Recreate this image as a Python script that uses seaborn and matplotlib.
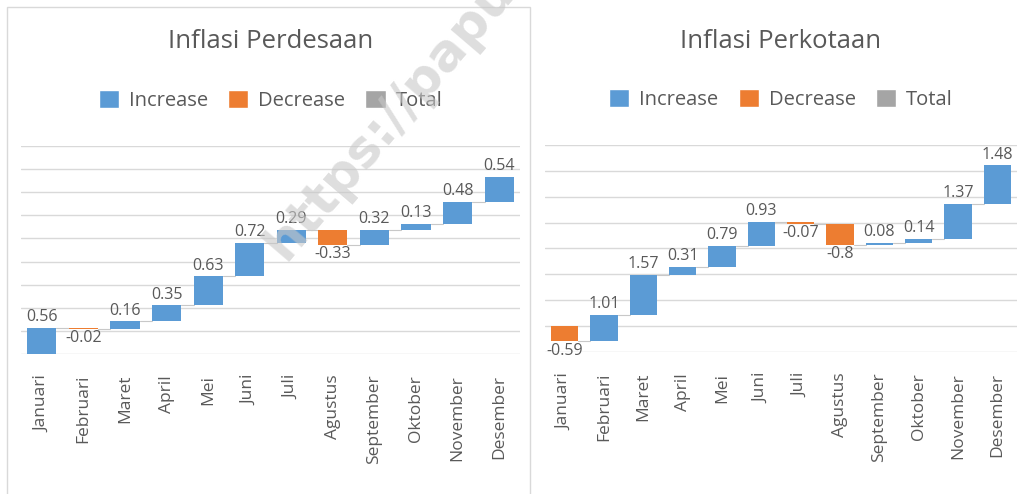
import numpy as np
import pandas as pd
import matplotlib.pyplot as plt
from matplotlib.patches import Patch, Rectangle
import seaborn as sns

# data
bulan = ['Januari', 'Februari', 'Maret', 'April', 'Mei', 'Juni', 'Juli',
         'Agustus', 'September', 'Oktober', 'November', 'Desember']
inflasi_desa = [0.56, -0.02, 0.16, 0.35, 0.63, 0.72, 0.29, -0.33, 0.32, 0.13, 0.48, 0.54]
inflasi_kota = [-0.59, 1.01, 1.57, 0.31, 0.79, 0.93, -0.07, -0.8, 0.08, 0.14, 1.37, 1.48]
jenis_legend = ['Increase', 'Decrease', 'Total']
warna = {'Increase': '#5B9BD5', 'Decrease': '#ED7D31', 'Total': '#A5A5A5'}

sns.set_theme(style='whitegrid', rc={'grid.color': '#d9d9d9', 'grid.linewidth': 1.0})
plt.rcParams['font.family'] = ['Open Sans', 'DejaVu Sans']
abu = '#595959'


def waterfall(ax, nilai, judul, ylim, step):
    df = pd.DataFrame({'bulan': bulan, 'nilai': nilai})
    df['akhir'] = df['nilai'].cumsum()
    df['awal'] = df['akhir'] - df['nilai']
    df['jenis'] = np.where(df['nilai'] >= 0, 'Increase', 'Decrease')
    df['tinggi'] = df['nilai'].abs()
    df['dasar'] = df[['awal', 'akhir']].min(axis=1)

    sns.barplot(data=df, x='bulan', y='tinggi', bottom=df['dasar'].to_numpy(),
                errorbar=None, width=0.7, saturation=1, color=warna['Increase'], ax=ax, zorder=3)
    for p, j in zip(ax.patches, df['jenis']):
        p.set_facecolor(warna[j])
        p.set_edgecolor('none')

    # connector lines
    for i in range(len(df) - 1):
        ax.plot([i + 0.35, i + 0.65], [df['akhir'][i]] * 2, color='#c8c8c8', lw=0.8, zorder=2)

    # data labels
    for i, r in df.iterrows():
        if r['jenis'] == 'Increase':
            ax.annotate(f"{r['nilai']:g}", (i, r['akhir']), xytext=(0, 2), textcoords='offset points',
                        ha='center', va='bottom', fontsize=11.5, color=abu, zorder=4)
        else:
            ax.annotate(f"{r['nilai']:g}", (i, r['akhir']), xytext=(0, -1), textcoords='offset points',
                        ha='center', va='top', fontsize=11.5, color=abu, zorder=4)

    pad = step * 0.01
    ax.set_xlim(-0.5, len(df) - 0.5)
    ax.set_ylim(ylim[0] - pad, ylim[1] + pad)
    ax.set_yticks(np.arange(ylim[0], ylim[1] + step / 2, step))
    ax.tick_params(axis='y', left=False, labelleft=False)
    ax.tick_params(axis='x', bottom=False, pad=9, labelsize=12.5, labelcolor=abu, labelrotation=90)
    ax.xaxis.grid(False)
    ax.set_xlabel('')
    ax.set_ylabel('')
    for s in ax.spines.values():
        s.set_visible(False)

    ax.text(0.5, 1.5, judul, transform=ax.transAxes, ha='center', va='center', fontsize=18.5, color=abu)
    handles = [Patch(facecolor=warna[k], label=k) for k in jenis_legend]
    ax.legend(handles=handles, loc='center', bbox_to_anchor=(0.5, 1.22), ncol=3, frameon=False,
              fontsize=14.5, handlelength=1.0, handleheight=1.0, columnspacing=1.0,
              handletextpad=0.5, labelcolor=abu)


fig = plt.figure(figsize=(10.18, 4.94), dpi=100)
ax1 = fig.add_axes([21 / 1018, 1 - 354 / 494, (520 - 21) / 1018, (354 - 146) / 494])
ax2 = fig.add_axes([545 / 1018, 1 - 352 / 494, (1017 - 545) / 1018, (352 - 145) / 494])

waterfall(ax1, inflasi_desa, 'Inflasi Perdesaan', (0, 4.5), 0.5)
waterfall(ax2, inflasi_kota, 'Inflasi Perkotaan', (-1, 7), 1)

# chart border of the left panel
fig.patches.append(Rectangle((7 / 1018, -0.02), (530 - 7) / 1018, 1 - 7 / 494 + 0.02,
                             transform=fig.transFigure, fill=False, edgecolor='#d9d9d9', lw=1))

# watermark
fig.text(285 / 1018, 1 - 262 / 494, 'https://papua.bps.go.id', rotation=49.5, rotation_mode='anchor',
         ha='left', va='baseline', fontsize=37, fontweight='bold', color='#c8c8c8', alpha=0.6,
         family='DejaVu Sans', zorder=10)

fig.savefig('out.png', dpi=100)
